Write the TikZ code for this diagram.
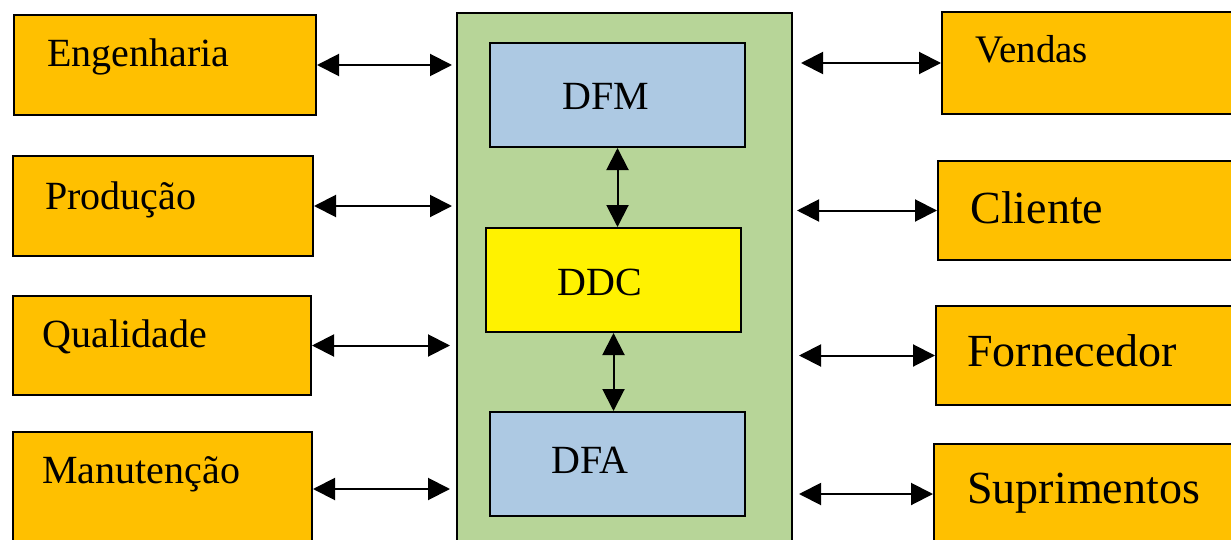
\documentclass[tikz,border=0pt]{standalone}
\usepackage{fontspec}
\setmainfont{Liberation Serif}
\usetikzlibrary{arrows.meta,fit}
\definecolor{deptorange}{HTML}{FFC000}
\definecolor{coregreen}{HTML}{B7D598}
\definecolor{methblue}{HTML}{ADC9E3}
\tikzstyle{dept}=[rectangle,draw=black,line width=1pt,fill=deptorange,inner sep=0pt]
\tikzstyle{meth}=[rectangle,draw=black,line width=1pt,fill=methblue,inner sep=0pt]
\tikzstyle{txt}=[anchor=base west,inner sep=0pt,font=\fontsize{20}{24}\selectfont]
\tikzstyle{bigtxt}=[anchor=base west,inner sep=0pt,font=\fontsize{23}{27}\selectfont]
\tikzstyle{link}=[{Triangle[length=11pt,width=11pt]}-{Triangle[length=11pt,width=11pt]}, line width=1pt]

\begin{document}
\begin{tikzpicture}[x=0.5pt,y=-0.5pt]
\useasboundingbox (0,0) rectangle (1231,540);
\clip (0,0) rectangle (1231,540);
% central block
\node[rectangle,draw=black,line width=1pt,fill=coregreen,inner sep=0pt,fit={(457,13) (792,560)}] (core) {};
\node[meth,fit={(490,43) (745,147)}] (dfm) {};
\node[rectangle,draw=black,line width=1pt,fill=yellow,inner sep=0pt,fit={(486,228) (741,332)}] (ddc) {};
\node[meth,fit={(490,412) (745,516)}] (dfa) {};
\node[txt] at (562,110) {DFM};
\node[txt] at (557,295) {DDC};
\node[txt] at (551,473) {DFA};
% left side
\node[dept,fit={(14,15) (316,115)}] (eng) {};
\node[dept,fit={(13,156) (313,256)}] (prod) {};
\node[dept,fit={(13,296) (311,395)}] (qual) {};
\node[dept,fit={(13,432) (312,546)}] (manut) {};
\node[txt] at (47,67) {Engenharia};
\node[txt] at (45,209) {Produção};
\node[txt] at (42,347) {Qualidade};
\node[txt] at (42,483) {Manutenção};
% right side
\node[dept,fit={(942,12) (1245,114)}] (vend) {};
\node[dept,fit={(938,161) (1245,260)}] (cli) {};
\node[dept,fit={(936,306) (1245,405)}] (forn) {};
\node[dept,fit={(934,444) (1245,544)}] (supr) {};
\node[txt,font=\fontsize{19.5}{24}\selectfont] at (975,63) {Vendas};
\node[bigtxt] at (970,223) {Cliente};
\node[bigtxt] at (967,366) {Fornecedor};
\node[bigtxt] at (967,503) {Suprimentos};
% connections
\draw[link,shorten >=2pt] (eng.east) -- (eng.east -| core.west);
\draw[link,shorten >=2pt] (prod.east) -- (prod.east -| core.west);
\draw[link,shorten >=3pt] (qual.east) -- (qual.east -| core.west);
\draw[link,shorten >=3pt] (manut.east) -- (manut.east -| core.west);
\draw[link,shorten <=4pt] (core.east |- vend.west) -- (vend.west);
\draw[link,shorten <=2pt] (core.east |- cli.west) -- (cli.west);
\draw[link,shorten <=3pt] (core.east |- forn.west) -- (forn.west);
\draw[link,shorten <=3pt] (core.east |- supr.west) -- (supr.west);
\draw[link] (dfm.south) -- (dfm.south |- ddc.north);
\draw[link] (ddc.south) -- (ddc.south |- dfa.north);
\end{tikzpicture}
\end{document}
